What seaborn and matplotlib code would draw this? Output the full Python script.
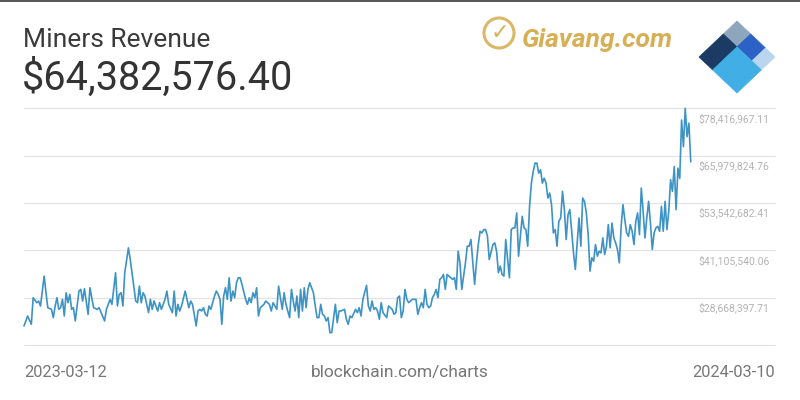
import numpy as np
import pandas as pd
import matplotlib
matplotlib.use("Agg")
import matplotlib.pyplot as plt
import seaborn as sns
from matplotlib.patches import Polygon, Ellipse
from matplotlib.lines import Line2D

# ---------------- data ----------------
title = "Miners Revenue"
headline_value = "$64,382,576.40"
source_label = "blockchain.com/charts"
start_date = "2023-03-12"
end_date = "2024-03-10"

# day offsets from start_date and miners revenue (million USD)
day_offsets = [
    0, 2, 4, 5, 7, 8, 9, 11, 12, 13, 15, 16, 17, 18, 19, 20, 21, 22, 23, 24,
    25, 26, 27, 28, 30, 31, 32, 33, 35, 36, 38, 40, 41, 44, 45, 47, 48, 50, 51, 52,
    53, 54, 55, 57, 58, 61, 62, 63, 64, 65, 66, 68, 69, 70, 71, 73, 74, 75, 77, 78,
    79, 81, 82, 83, 84, 85, 86, 88, 90, 91, 92, 94, 95,
    96, 97, 98, 99, 100, 101, 102, 104, 105, 106, 107, 108, 109, 110, 111, 112, 113, 114, 115, 116,
    117, 118, 119, 121, 122, 123, 124, 125, 126, 127, 128, 129, 131, 132, 134, 135, 136, 138, 139, 141,
    142, 143, 145, 146, 147, 148, 149, 150, 151, 152, 153, 154, 155, 156, 157, 158, 159, 160, 161, 162,
    163, 164, 165, 166, 167, 168, 170, 171, 172, 173, 175, 176, 177, 178, 179, 181, 182, 183,
    184, 185, 187, 188, 189, 190, 191, 192, 193, 194, 195, 196, 198, 199, 200, 201, 202, 203, 204, 205,
    206, 207, 208, 209, 210, 212, 214, 215, 216, 217, 218, 219, 220, 221, 222, 223, 224, 225, 226, 227,
    228, 229, 230, 231, 232, 233, 234, 235, 236, 237, 238, 239, 240, 241, 242, 243, 244, 246, 247, 248,
    249, 250, 251, 252, 253, 254, 256, 257, 258, 259, 260, 261, 262, 263, 265, 266, 267, 268, 269, 270,
    272, 273, 274, 275, 276,
    277, 278, 279, 280, 281, 282, 283, 284, 285, 286, 287, 288, 289, 290, 291, 292, 293, 294, 295, 296,
    297, 298, 300, 301, 302, 303, 304, 305, 306, 307, 308, 309, 310, 311, 312, 313, 314, 315, 316, 317,
    318, 319, 320, 321, 322, 323, 324, 325, 326, 327, 328, 329, 330, 331, 332, 333, 334, 335, 336, 337,
    338, 339, 340, 341, 342, 343, 344, 345, 346, 347, 348, 349, 350, 351, 352, 353, 354, 355, 356, 357,
    358, 359, 360, 361, 362, 363, 364,
]
revenue_musd = [
    21.23, 23.85, 21.67, 28.65, 27.34, 27.78, 26.47, 34.33, 29.96, 26.03, 25.60, 23.42, 26.47, 28.65, 25.60, 26.03, 28.22, 23.85, 29.96, 27.34,
    29.53, 25.60, 26.03, 22.54, 30.40, 30.84, 27.78, 31.01, 24.29, 31.27, 26.03, 25.60, 26.03, 22.54, 25.60, 28.22, 26.91, 35.20, 26.47, 29.53,
    29.96, 26.47, 35.20, 41.75, 38.69, 27.78, 27.34, 31.71, 27.34, 29.96, 29.09, 24.73, 28.22, 25.60, 27.78, 25.16, 27.34, 25.60, 28.22, 30.40,
    26.91, 24.73, 30.40, 23.85, 26.91, 25.16, 26.47, 30.40, 26.03, 27.78, 26.91, 21.23, 25.20,
    25.60, 25.16, 26.03, 24.29, 23.85, 26.47, 25.60, 29.09, 30.40, 29.53, 28.22, 21.67, 29.09, 31.27, 28.22, 33.89, 27.78, 30.40, 28.65, 32.58,
    33.89, 33.89, 32.15, 28.22, 26.91, 28.65, 27.34, 29.96, 28.65, 31.27, 23.85, 26.03, 26.91, 27.78, 26.91, 25.16, 27.34, 25.60, 31.71, 25.60,
    29.96, 26.91, 23.42, 30.84, 27.78, 25.16, 29.09, 23.42, 30.84, 25.16, 31.27, 26.03, 30.84, 32.58, 31.27, 29.96, 26.47, 23.42, 23.42, 26.91,
    24.29, 23.85, 22.54, 23.42, 19.49, 19.49, 26.91, 22.11, 25.16, 25.16, 25.60, 22.98, 21.67, 23.85, 23.42, 25.60, 24.73, 26.03,
    23.86, 28.22, 31.89, 26.48, 25.17, 27.79, 25.61, 26.04, 25.17, 22.99, 27.35, 24.73, 23.42, 26.48, 26.04, 25.61, 24.29, 24.73, 28.66, 29.10,
    23.42, 25.17, 30.84, 28.22, 27.35, 28.22, 28.22, 24.29, 26.04, 27.35, 26.04, 30.84, 26.91, 26.04, 26.48, 28.66, 29.53, 30.84, 28.66, 33.46,
    33.90, 34.77, 30.84, 34.77, 34.33, 33.90, 33.46, 33.90, 30.84, 40.88, 37.82, 30.84, 34.33, 37.82, 42.19, 42.19, 43.93, 32.15, 37.82, 42.62,
    46.11, 45.68, 46.55, 46.55, 44.81, 38.69, 42.62, 43.06, 40.88, 35.20, 36.95, 34.77, 34.33, 43.93, 33.90, 46.55, 46.99, 46.99, 50.92, 39.57,
    50.04, 46.99, 46.55, 42.19, 52.66,
    58.77, 61.83, 64.01, 64.01, 61.39, 62.26, 58.77, 60.08, 58.77, 54.84, 56.15, 53.10, 45.68, 46.55, 42.19, 48.73, 49.61, 56.59, 51.79, 43.93,
    50.48, 51.79, 40.44, 36.08, 43.06, 49.61, 42.19, 54.84, 53.97, 50.92, 45.24, 35.64, 39.13, 38.26, 42.62, 39.57, 40.88, 40.44, 44.37, 40.01,
    42.19, 47.86, 41.75, 48.29, 44.37, 43.06, 41.32, 37.82, 47.42, 53.10, 49.17, 45.68, 44.81, 47.86, 46.12, 42.62, 48.73, 50.92, 45.24, 57.46,
    51.35, 44.37, 49.61, 53.97, 48.29, 41.32, 45.68, 46.99, 47.42, 46.12, 52.66, 46.12, 53.97, 46.55, 51.35, 59.64, 56.59, 63.13, 51.79, 62.70,
    60.00, 75.35, 68.36, 78.42, 70.98, 74.49, 64.38,
]
# right-hand gridline labels (USD)
tick_values = [28668397.71, 41105540.06, 53542682.41, 65979824.76, 78416967.11]

# ---------------- build ----------------
dates = pd.Timestamp(start_date) + pd.to_timedelta(day_offsets, unit="D")
df = pd.DataFrame({"date": dates, "revenue": np.array(revenue_musd) * 1e6})

sns.set_theme(style="white")
plt.rcParams["font.family"] = ["Roboto", "DejaVu Sans"]

W, H = 800, 400
fig = plt.figure(figsize=(8, 4), dpi=100)
fig.patch.set_facecolor("white")

ax_left, ax_right, ax_top, ax_bottom = 24, 775, 108.3, 345
ax = fig.add_axes([ax_left / W, 1 - ax_bottom / H,
                   (ax_right - ax_left) / W, (ax_bottom - ax_top) / H])
ax.set_axis_off()

step = tick_values[1] - tick_values[0]
ymin = tick_values[0] - step
ax.set_ylim(ymin, tick_values[-1])
ax.set_xlim(pd.Timestamp(start_date), pd.Timestamp(start_date) + pd.Timedelta(days=410))

for v in [ymin] + tick_values:
    ax.axhline(v, color="#e4e4e4", lw=0.9, zorder=0, clip_on=False)

sns.lineplot(data=df, x="date", y="revenue", ax=ax, color="#3d93c4",
             linewidth=1.2, legend=False)
for ln in ax.lines:
    ln.set_clip_on(False)

for v in tick_values:
    ax.annotate(f"${v:,.2f}", xy=(0.8975, v), xycoords=("axes fraction", "data"),
                xytext=(0, -7.3), textcoords="offset points", ha="left", va="center",
                fontsize=7.5, color="#b3b3b3")

# ---------------- header ----------------
fig.add_artist(Line2D([0, 1], [1 - 0.8 / H, 1 - 0.8 / H], color="#555555", lw=1.4,
                      transform=fig.transFigure))
fig.text(23 / W, 1 - 47.3 / H, title, fontsize=19, color="#3a3a3a", va="baseline", ha="left")
fig.text(22 / W, 1 - 90 / H, headline_value, fontsize=28.5, color="#333333",
         va="baseline", ha="left")

# watermark
gold = "#d7b056"
fig.add_artist(Ellipse((499 / W, 1 - 33 / H), 30 / W, 30 / H, fill=False,
                       edgecolor=gold, lw=2.2, transform=fig.transFigure, alpha=0.9))
fig.text(500 / W, 1 - 33 / H, "\u2713", fontsize=16, color=gold, ha="center", va="center",
         family=["DejaVu Sans"], fontweight="bold")
fig.text(522 / W, 1 - 46.7 / H, "Giavang.com", fontsize=19, color=gold,
         fontweight="bold", fontstyle="italic", va="baseline", ha="left")

# blockchain logo
T = np.array([737.0, 21.0])
R = np.array([775.0, 57.0])
L = np.array([699.0, 57.0])
def P(a, b):
    p = T + a * (R - T) + b * (L - T)
    return (p[0] / W, 1 - p[1] / H)
pieces = [
    ((0, 0.36), (0, 0.36), "#8ea6bb"),
    ((0, 0.36), (0.36, 1), "#1c3b64"),
    ((0.36, 0.75), (0, 0.36), "#2c62c6"),
    ((0.75, 1), (0, 0.36), "#b9d6ee"),
    ((0.36, 1), (0.36, 1), "#41afe6"),
]
for (a0, a1), (b0, b1), c in pieces:
    poly = Polygon([P(a0, b0), P(a1, b0), P(a1, b1), P(a0, b1)], closed=True,
                   facecolor=c, edgecolor=c, lw=0.5, joinstyle="round",
                   transform=fig.transFigure)
    fig.add_artist(poly)

# ---------------- footer ----------------
fig.text(24 / W, 1 - 377.3 / H, start_date, fontsize=11.8, color="#777777", va="baseline", ha="left")
fig.text(400 / W, 1 - 377.3 / H, source_label, fontsize=12.5, color="#777777", va="baseline", ha="center")
fig.text(775 / W, 1 - 377.3 / H, end_date, fontsize=11.8, color="#777777", va="baseline", ha="right")

fig.savefig("out.png", dpi=100, facecolor="white")
